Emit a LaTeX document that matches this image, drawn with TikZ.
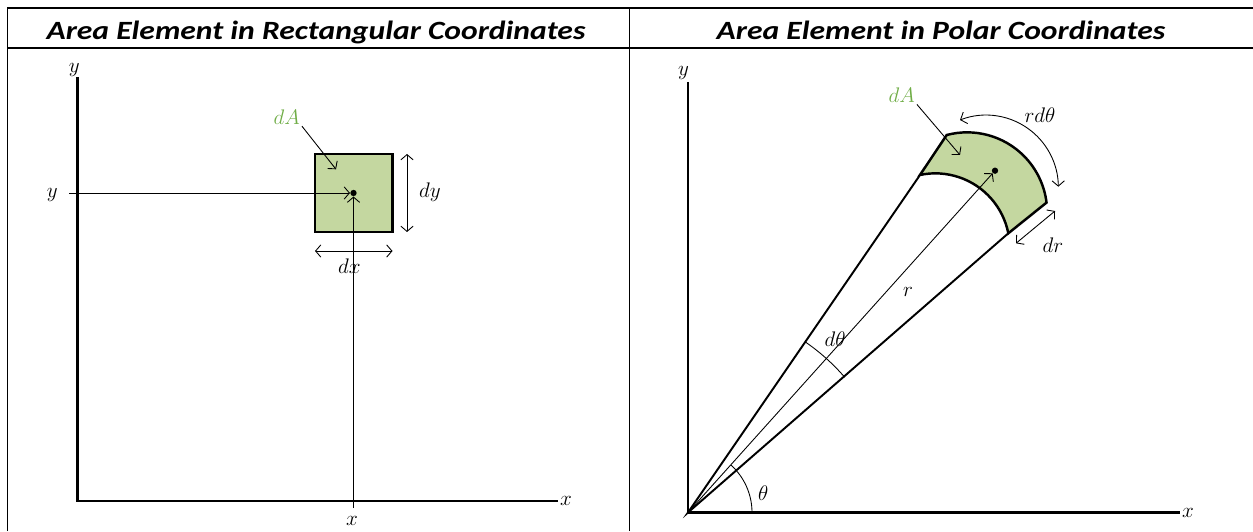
\documentclass[tikz,border=0pt]{standalone}
\usepackage{fontspec}
\newfontfamily\titlefont[FakeStretch=1.2]{Carlito}
\usetikzlibrary{arrows.meta}
\definecolor{areagreen}{RGB}{196,215,160}
\definecolor{labelgreen}{RGB}{112,173,71}
\tikzset{
	frame/.style={line width=1.1pt},
	axis/.style={line width=1.3pt},
	edge/.style={line width=1.4pt},
	ray/.style={line width=1.1pt},
	thinline/.style={line width=0.5pt},
	lbl/.style={inner sep=1pt,font=\fontsize{12.5}{14}\selectfont},
	title/.style={anchor=base,font=\titlefont\fontsize{15}{18}\selectfont\bfseries\itshape},
	dot/.style={circle,fill=black,inner sep=0pt,minimum size=3.6pt}
}
\begin{document}
\begin{tikzpicture}[x=0.02cm,y=0.02cm,>={Straight Barb[length=3pt,width=7pt]}]
	\useasboundingbox (0,0) rectangle (1253,531);
	% table lines
	\draw[frame] (7.5,0) -- (7.5,523) -- (1253,523);
	\draw[frame] (7.5,483) -- (1253,483);
	\draw[frame] (629.5,0) -- (629.5,523);
	\node[title] (titleL) at (316,491.7) {Area Element in Rectangular Coordinates};
	\node[title] (titleR) at (941,491.7) {Area Element in Polar Coordinates};
	% rectangular coordinates
	\coordinate (oL) at (77.5,30.3);
	\coordinate (yendL) at (77.5,454);
	\coordinate (xendL) at (558,30.3);
	\draw[axis] (yendL) -- (oL) -- (xendL);
	\node[lbl] (ylabL) at (74.3,460.7) {$y$};
	\node[lbl,anchor=west] (xlabL) at (xendL) {$x$};
	\filldraw[edge,fill=areagreen] (315,299) rectangle (392.5,377);
	\node[dot] (pL) at (353.5,338) {};
	\coordinate (yfromL) at (69,338);
	\coordinate (xfromL) at (353.5,23);
	\draw[->,thinline] (yfromL) -- (pL);
	\draw[->,thinline] (xfromL) -- (pL);
	\node[lbl] (ypL) at (52.2,336) {$y$};
	\node[lbl] (xpL) at (352,10) {$x$};
	\node[lbl,text=labelgreen] (dAL) at (286.7,414.3) {$dA$};
	\coordinate (dAtipL) at (336,361.7);
	\draw[->,thinline] (dAL.south east) -- (dAtipL);
	\coordinate (dyTop) at (407,377);
	\coordinate (dyBot) at (407,299);
	\draw[<->,thinline] (dyTop) -- (dyBot);
	\node[lbl] (dyL) at (430,338.3) {$dy$};
	\coordinate (dxLeft) at (315,280);
	\coordinate (dxRight) at (392.5,280);
	\draw[<->,thinline] (dxLeft) -- (dxRight);
	\node[lbl] (dxL) at (349.3,265.3) {$dx$};
	% polar coordinates
	\coordinate (oR) at (688,18.5);
	\coordinate (yendR) at (688,449);
	\coordinate (xendR) at (1180,18.5);
	\draw[axis] (yendR) -- (oR) -- (xendR);
	\node[lbl] (ylabR) at (683.6,457.7) {$y$};
	\node[lbl,anchor=west] (xlabR) at (xendR) {$x$};
	\coordinate (inUp) at (920,356);
	\coordinate (outUp) at (946.7,396);
	\coordinate (inLo) at (1008.3,297.7);
	\coordinate (outLo) at (1046.7,328.3);
	\filldraw[edge,fill=areagreen] (outUp) arc[start angle=104.8,end angle=7,radius=80]
		-- (inLo) arc[start angle=11.2,end angle=101.9,radius=74.4] -- cycle;
	\draw[ray] (inUp) -- (oR) -- (inLo);
	\node[dot] (pR) at (995,360.3) {};
	\draw[->,thinline] (oR) -- (pR);
	\node[lbl] (rR) at (908,239.3) {$r$};
	\draw[thinline] (oR) ++(64,0) arc[start angle=0,end angle=48,radius=64];
	\node[lbl] (thR) at (763.3,38.3) {$\theta$};
	\draw[thinline] (oR) ++(40.8:207) arc[start angle=40.8,end angle=55.5,radius=207];
	\node[lbl] (dthR) at (835,191.7) {$d\theta$};
	\node[lbl,text=labelgreen] (dAR) at (901.7,436) {$dA$};
	\coordinate (dAtipR) at (960,376);
	\draw[->,thinline] (dAR.south east) -- (dAtipR);
	\coordinate (rdtStart) at (960,411);
	\draw[<->,thinline] (rdtStart) arc[start angle=111.2,end angle=0.5,radius=72.2];
	\node[lbl] (rdtR) at (1040,416) {$rd\theta$};
	\coordinate (drOut) at (1055,320);
	\coordinate (drIn) at (1016,287.7);
	\draw[<->,thinline] (drOut) -- (drIn);
	\node[lbl] (drR) at (1053,286) {$dr$};
\end{tikzpicture}
\end{document}
